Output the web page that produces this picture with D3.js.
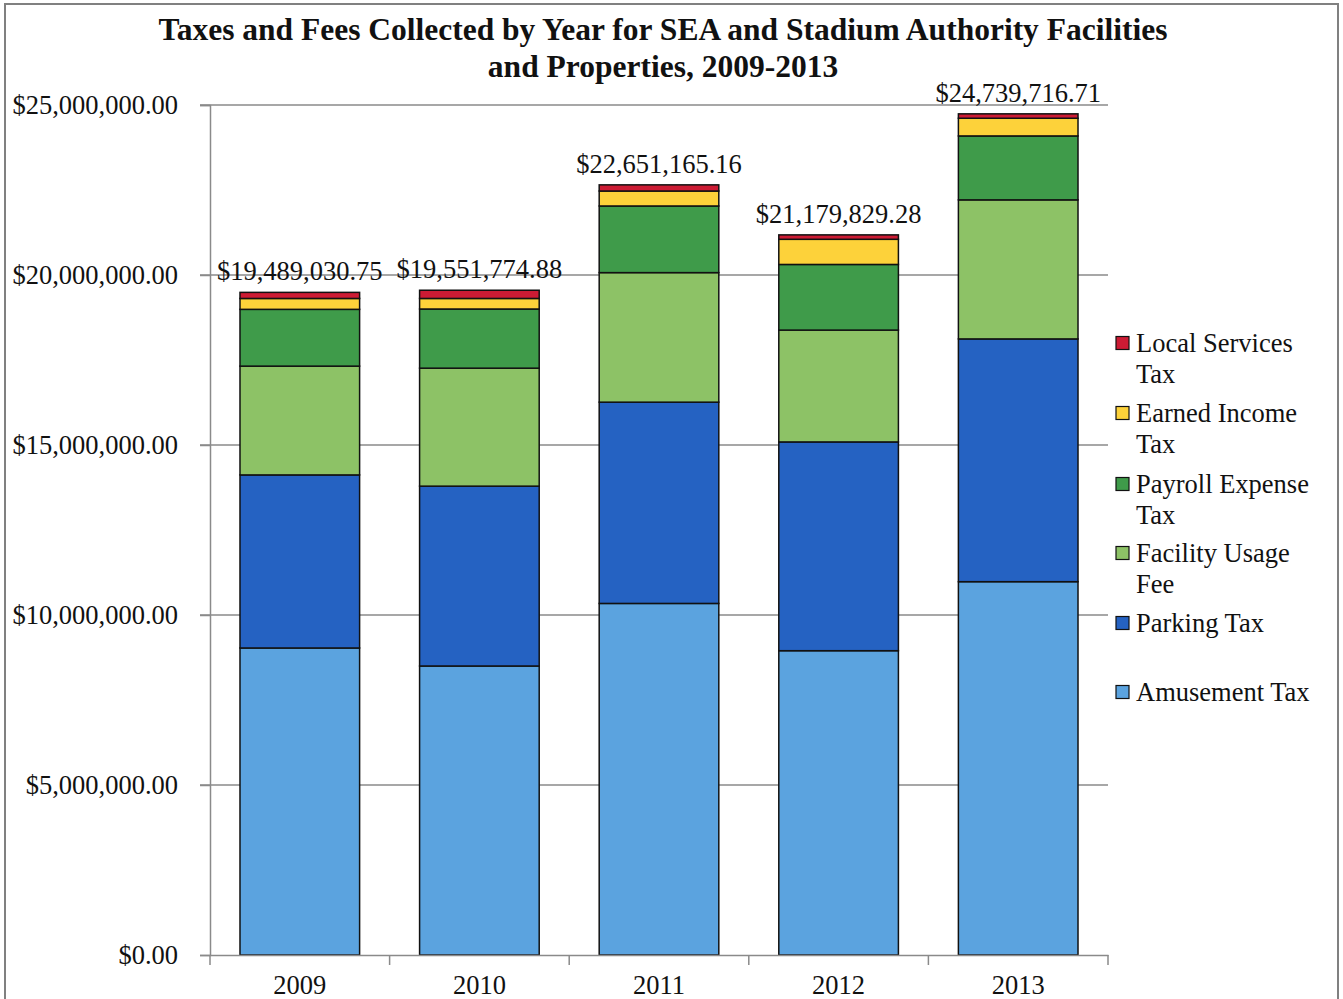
<!DOCTYPE html>
<html>
<head>
<meta charset="utf-8">
<script src="https://cdn.jsdelivr.net/npm/d3@7"></script>
<style>
  body { margin: 0; background: #fff; }
  text { font-family: "Liberation Serif", "Times New Roman", serif; fill: #111; }
</style>
</head>
<body>
<svg id="chart"></svg>
<script>
// data (values in dollars)
const years = ["2009", "2010", "2011", "2012", "2013"];
const seriesNames = ["Amusement Tax", "Parking Tax", "Facility Usage Fee", "Payroll Expense Tax", "Earned Income Tax", "Local Services Tax"];
const amusementTax   = [9030000, 8500000, 10340000, 8950000, 10980000];
const parkingTax     = [5090000, 5290000, 5920000, 6140000, 7140000];
const facilityFee    = [3200000, 3470000, 3810000, 3290000, 4090000];
const payrollTax     = [1670000, 1740000, 1960000, 1930000, 1880000];
const earnedIncome   = [320000, 310000, 440000, 740000, 520000];
const localServices  = [179030.75, 241774.88, 181165.16, 129829.28, 129716.71];
const totalLabels = ["$19,489,030.75", "$19,551,774.88", "$22,651,165.16", "$21,179,829.28", "$24,739,716.71"];
const yTicks = [0, 5000000, 10000000, 15000000, 20000000, 25000000];
const yTickLabels = ["$0.00", "$5,000,000.00", "$10,000,000.00", "$15,000,000.00", "$20,000,000.00", "$25,000,000.00"];
const colors = ["#5ba3df", "#2562c2", "#8dc266", "#3f9b4a", "#fdd23a", "#cc1b34"];
// legend shows the stack top first, with wrapped names
const legendLines = [
  ["Local Services", "Tax"],
  ["Earned Income", "Tax"],
  ["Payroll Expense", "Tax"],
  ["Facility Usage", "Fee"],
  ["Parking Tax"],
  ["Amusement Tax"]
];

const W = 1343, H = 999;
const fontSize = "26.5px";
const svg = d3.select("#chart").attr("width", W).attr("height", H);

const rows = years.map((yr, i) => ({
  year: yr,
  "Amusement Tax": amusementTax[i],
  "Parking Tax": parkingTax[i],
  "Facility Usage Fee": facilityFee[i],
  "Payroll Expense Tax": payrollTax[i],
  "Earned Income Tax": earnedIncome[i],
  "Local Services Tax": localServices[i]
}));
const stacked = d3.stack().keys(seriesNames)(rows);

const plot = { left: 210, right: 1108, top: 105, bottom: 955 };

const x = d3.scaleBand().domain(years)
            .range([plot.left, plot.right])
            .paddingInner(0.334).paddingOuter(0.167);
const y = d3.scaleLinear().domain([0, 25000000]).range([plot.bottom, plot.top]);
const color = d3.scaleOrdinal().domain(seriesNames).range(colors);

// outer frame
svg.append("rect")
   .attr("x", 5).attr("y", 4).attr("width", 1333).attr("height", 1010)
   .attr("fill", "none").attr("stroke", "#808080").attr("stroke-width", 2);

// title
const title = svg.append("text")
   .attr("x", 663).attr("y", 40)
   .attr("text-anchor", "middle")
   .style("font-weight", "bold").style("font-size", "31.5px");
title.append("tspan").attr("x", 663).text("Taxes and Fees Collected by Year for SEA and Stadium Authority Facilities");
title.append("tspan").attr("x", 663).attr("dy", 37).text("and Properties, 2009-2013");

// gridlines
svg.append("g").selectAll("line")
   .data(yTicks.filter(d => d > 0))
   .join("line")
   .attr("x1", plot.left - 10).attr("x2", plot.right)
   .attr("y1", d => y(d)).attr("y2", d => y(d))
   .attr("stroke", "#8a8a8a").attr("stroke-width", 1.5);

// y axis
const yAxis = svg.append("g")
   .attr("transform", `translate(${plot.left},0)`)
   .call(d3.axisLeft(y).tickValues(yTicks).tickSize(10).tickPadding(22)
           .tickFormat((d, i) => yTickLabels[i]));
yAxis.select(".domain").attr("stroke", "#8a8a8a").attr("stroke-width", 1.5);
yAxis.selectAll(".tick line").attr("stroke", "#8a8a8a").attr("stroke-width", 1.5);
yAxis.selectAll(".tick text")
   .style("font-family", "Liberation Serif, serif").style("font-size", fontSize)
   .attr("fill", "#111").attr("dy", "0.32em");

// bars
svg.append("g").selectAll("g")
   .data(stacked)
   .join("g")
   .attr("fill", d => color(d.key))
   .selectAll("rect")
   .data(d => d)
   .join("rect")
   .attr("x", d => x(d.data.year))
   .attr("width", x.bandwidth())
   .attr("y", d => y(d[1]))
   .attr("height", d => y(d[0]) - y(d[1]))
   .attr("stroke", "#111").attr("stroke-width", 1.5);

// x axis
const xAxis = svg.append("g")
   .attr("transform", `translate(0,${plot.bottom})`)
   .call(d3.axisBottom(x).tickSize(0).tickPadding(0));
xAxis.select(".domain").attr("stroke", "#8a8a8a").attr("stroke-width", 1.5);
xAxis.selectAll(".tick text")
   .style("font-family", "Liberation Serif, serif").style("font-size", fontSize)
   .attr("fill", "#111").attr("y", 39).attr("dy", null);
// category separators
const step = x.step();
xAxis.append("g").selectAll("line")
   .data(d3.range(years.length + 1))
   .join("line")
   .attr("x1", i => plot.left + i * step).attr("x2", i => plot.left + i * step)
   .attr("y1", 0).attr("y2", 10)
   .attr("stroke", "#8a8a8a").attr("stroke-width", 1.5);

// totals above bars
const topLayer = stacked[stacked.length - 1];
svg.append("g").selectAll("text")
   .data(topLayer)
   .join("text")
   .attr("x", d => x(d.data.year) + x.bandwidth() / 2)
   .attr("y", d => y(d[1]) - 12)
   .attr("text-anchor", "middle")
   .style("font-size", fontSize)
   .text((d, i) => totalLabels[i]);

// legend
const legend = svg.append("g").attr("transform", "translate(1116,0)");
const legendY = [343, 413, 484, 553, 623, 692];
legendLines.forEach((lines, i) => {
  const key = seriesNames[seriesNames.length - 1 - i];
  const g = legend.append("g").attr("transform", `translate(0,${legendY[i]})`);
  g.append("rect")
   .attr("x", 0).attr("y", -6.5).attr("width", 13).attr("height", 13)
   .attr("fill", color(key)).attr("stroke", "#111").attr("stroke-width", 1.2);
  lines.forEach((ln, j) => {
    g.append("text")
     .attr("x", 20).attr("y", j * 31).attr("dy", "0.34em")
     .style("font-size", fontSize)
     .text(ln);
  });
});
</script>
</body>
</html>
